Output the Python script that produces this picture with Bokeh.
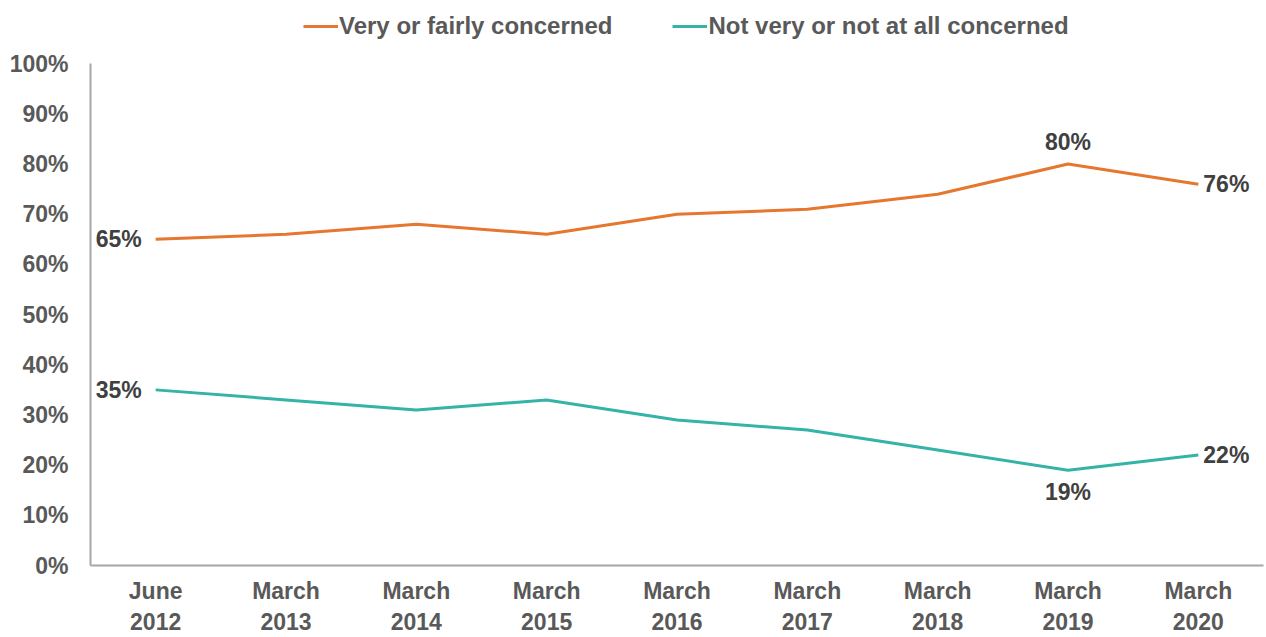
from bokeh.plotting import figure
from bokeh.models import FixedTicker, Legend, LegendItem, ColumnDataSource
from bokeh.core.properties import value
from bokeh.embed import file_html
from bokeh.resources import INLINE

categories = ["June\n2012", "March\n2013", "March\n2014", "March\n2015", "March\n2016",
              "March\n2017", "March\n2018", "March\n2019", "March\n2020"]
concerned = [65, 66, 68, 66, 70, 71, 74, 80, 76]
not_concerned = [35, 33, 31, 33, 29, 27, 23, 19, 22]
y_ticks = [0, 10, 20, 30, 40, 50, 60, 70, 80, 90, 100]

ORANGE = "#E6772E"
TEAL = "#35B3A7"
FONT = "Liberation Sans"
xs = list(range(len(categories)))

p = figure(width=1266, height=637, output_backend="svg", toolbar_location=None,
           x_range=(-0.5, 8.5), y_range=(0, 112.6),
           min_border_left=90, min_border_right=3, min_border_top=0, min_border_bottom=60)
p.outline_line_color = None
p.grid.visible = False
p.background_fill_color = "white"

r1 = p.line(xs, concerned, line_color=ORANGE, line_width=3)
r2 = p.line(xs, not_concerned, line_color=TEAL, line_width=3)

# axes
p.xaxis.ticker = FixedTicker(ticks=xs)
p.xaxis.major_label_overrides = {i: c for i, c in enumerate(categories)}
p.yaxis.ticker = FixedTicker(ticks=y_ticks)
p.yaxis.major_label_overrides = {t: f"{t}%" for t in y_ticks}
p.yaxis.bounds = (0, 100)
for ax in (p.xaxis[0], p.yaxis[0]):
    ax.axis_line_color = "#A6A6A6"
    ax.axis_line_width = 2
    ax.major_tick_line_color = None
    ax.minor_tick_line_color = None
    ax.major_label_text_font = FONT
    ax.major_label_text_font_style = "bold"
    ax.major_label_text_color = "#595959"
    ax.major_label_text_font_size = "23px"
p.yaxis.major_label_standoff = 16
p.xaxis.major_label_standoff = 6

# data labels
lab_font = dict(text_font=value(FONT), text_font_style="bold", text_color="#404040",
                text_font_size="23px")
first = 0
last = len(categories) - 1
peak = concerned.index(max(concerned))
low = not_concerned.index(min(not_concerned))

left_src = ColumnDataSource(dict(x=[first, first], y=[concerned[first], not_concerned[first]],
                                 t=[f"{concerned[first]}%", f"{not_concerned[first]}%"]))
p.text("x", "y", "t", source=left_src, text_align="right", text_baseline="middle",
       x_offset=-14, **lab_font)
right_src = ColumnDataSource(dict(x=[last, last], y=[concerned[last], not_concerned[last]],
                                  t=[f"{concerned[last]}%", f"{not_concerned[last]}%"]))
p.text("x", "y", "t", source=right_src, text_align="left", text_baseline="middle",
       x_offset=5, **lab_font)
p.text([peak], [concerned[peak]], [f"{concerned[peak]}%"], text_align="center",
       text_baseline="bottom", y_offset=-9, **lab_font)
p.text([low], [not_concerned[low]], [f"{not_concerned[low]}%"], text_align="center",
       text_baseline="top", y_offset=9, **lab_font)

legend = Legend(items=[LegendItem(label="Very or fairly concerned", renderers=[r1]),
                       LegendItem(label="Not very or not at all concerned", renderers=[r2])],
                orientation="horizontal", location=(213, 525),
                glyph_width=35, label_standoff=1, spacing=60,
                label_text_font=FONT, label_text_font_style="bold",
                label_text_color="#595959", label_text_font_size="24px",
                border_line_color=None, background_fill_alpha=0,
                padding=2, margin=0)
p.add_layout(legend, "center")

open("out.html", "w").write(file_html(p, INLINE))
